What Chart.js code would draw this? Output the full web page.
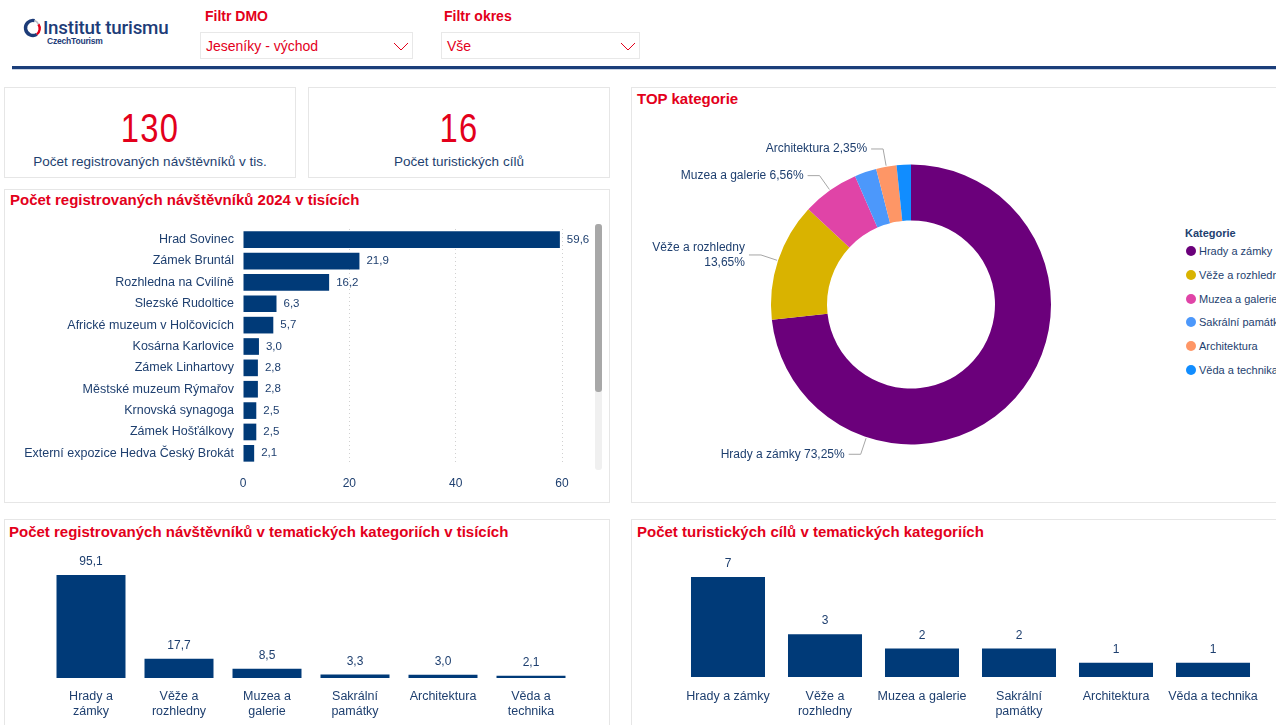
<!DOCTYPE html>
<html lang="cs">
<head>
<meta charset="utf-8">
<title>Institut turismu – Jeseníky - východ</title>
<script src="https://cdn.jsdelivr.net/npm/chart.js@4.4.1/dist/chart.umd.min.js"></script>
<style>
html,body{margin:0;padding:0;background:#fff;}
body{width:1276px;height:725px;overflow:hidden;position:relative;font-family:"Liberation Sans",Arial,sans-serif;color:#1e3f6f;}
.card{position:absolute;border:1px solid #e6e6e6;box-sizing:border-box;background:#fff;}
.title{position:absolute;font-weight:bold;font-size:15px;line-height:16px;color:#e3001b;white-space:nowrap;}
.flabel{position:absolute;font-weight:bold;font-size:14px;line-height:16px;color:#e3001b;white-space:nowrap;}
.dd{position:absolute;border:1px solid #e8e8e8;box-sizing:border-box;height:27px;top:32px;}
.dd span{position:absolute;left:5px;top:5px;font-size:14px;line-height:16px;color:#e3001b;white-space:nowrap;}
.dd svg{position:absolute;top:9px;}
.kpi-num{position:absolute;left:0;right:0;text-align:center;font-family:"Liberation Sans",Arial,sans-serif;font-size:41px;line-height:41px;color:#e3001b;letter-spacing:1.5px;transform:scaleX(0.8);transform-origin:50% 50%;}
.kpi-lbl{position:absolute;left:0;right:0;text-align:center;font-size:13.5px;line-height:15px;color:#1e3f6f;white-space:nowrap;}
canvas{position:absolute;}
#legend{position:absolute;left:1185px;top:226px;white-space:nowrap;font-size:11px;color:#1e3f6f;}
#legend .lt{font-weight:bold;line-height:14px;height:14px;}
#legend .li{position:relative;height:23.8px;line-height:14px;padding-left:14px;}
#legend .li i{position:absolute;left:1px;top:2px;width:10px;height:10px;border-radius:50%;}
</style>
</head>
<body>

<!-- header -->
<svg style="position:absolute;left:21px;top:17px" width="22" height="22" viewBox="0 0 22 22">
  <path d="M13.6 3.6 A7.5 7.5 0 1 0 15.8 17.4" fill="none" stroke="#1d3c78" stroke-width="3.4"/>
  <path d="M15.8 17.4 A7.5 7.5 0 0 0 17.4 7.2" fill="none" stroke="#e3001b" stroke-width="2.4"/>
  <path d="M17.4 7.2 A7.5 7.5 0 0 0 13.6 3.6" fill="none" stroke="#b8bcc6" stroke-width="1.6"/>
</svg>
<div style="position:absolute;left:43px;top:17px;font-family:Roboto,'Liberation Sans',sans-serif;font-weight:500;font-size:18.8px;line-height:22px;color:#1d3c78;letter-spacing:-0.2px;white-space:nowrap">Institut turismu</div>
<div style="position:absolute;left:47px;top:36px;font-weight:bold;font-size:8.5px;line-height:10px;color:#1d3c78;letter-spacing:-0.2px;white-space:nowrap">CzechTourism</div>

<div class="flabel" style="left:205px;top:8px">Filtr DMO</div>
<div class="dd" style="left:200px;width:213px"><span>Jeseníky - východ</span>
  <svg style="left:192px" width="16" height="9" viewBox="0 0 16 9"><path d="M1 1 L8 8 L15 1" fill="none" stroke="#e3001b" stroke-width="1"/></svg></div>
<div class="flabel" style="left:444px;top:8px">Filtr okres</div>
<div class="dd" style="left:441px;width:199px"><span>Vše</span>
  <svg style="left:178px" width="16" height="9" viewBox="0 0 16 9"><path d="M1 1 L8 8 L15 1" fill="none" stroke="#e3001b" stroke-width="1"/></svg></div>
<div style="position:absolute;left:12px;top:66px;width:1264px;height:3px;background:#1b3e7a"></div>
<div style="position:absolute;left:12px;top:69px;width:1264px;height:1px;background:#c9d3e3"></div>

<!-- KPI cards -->
<div class="card" style="left:4px;top:87px;width:292px;height:91px">
  <div class="kpi-num" id="kpi1" style="top:20px"></div>
  <div class="kpi-lbl" style="top:66px">Počet registrovaných návštěvníků v tis.</div>
</div>
<div class="card" style="left:308px;top:87px;width:302px;height:91px">
  <div class="kpi-num" id="kpi2" style="top:20px"></div>
  <div class="kpi-lbl" style="top:66px">Počet turistických cílů</div>
</div>

<!-- horizontal bar card -->
<div class="card" style="left:4px;top:189px;width:606px;height:314px"></div>
<div class="title" style="left:10px;top:192px">Počet registrovaných návštěvníků 2024 v tisících</div>
<canvas id="hbar" width="580" height="270" style="left:10px;top:229px"></canvas>
<div style="position:absolute;left:595px;top:224px;width:7px;height:246px;background:#f0f0f0;border-radius:3px"></div>
<div style="position:absolute;left:595px;top:224px;width:7px;height:168px;background:#a8a8a8;border-radius:3px"></div>

<!-- donut card -->
<div class="card" style="left:631px;top:87px;width:660px;height:416px"></div>
<div class="title" style="left:637px;top:91px">TOP kategorie</div>
<canvas id="donut" width="549" height="390" style="left:631px;top:110px"></canvas>
<div id="legend"></div>

<!-- bottom cards -->
<div class="card" style="left:4px;top:519px;width:606px;height:230px"></div>
<div class="title" style="left:9px;top:524px">Počet registrovaných návštěvníků v tematických kategoriích v tisících</div>
<canvas id="vbar1" width="605" height="180" style="left:4px;top:545px"></canvas>

<div class="card" style="left:631px;top:519px;width:660px;height:230px"></div>
<div class="title" style="left:637px;top:524px">Počet turistických cílů v tematických kategoriích</div>
<canvas id="vbar2" width="645" height="180" style="left:631px;top:545px"></canvas>

<script>
// ---------------- data ----------------
const kpiVisitors = 130;
const kpiTargets = 16;

const places = ['Hrad Sovinec','Zámek Bruntál','Rozhledna na Cvilíně','Slezské Rudoltice',
  'Africké muzeum v Holčovicích','Kosárna Karlovice','Zámek Linhartovy','Městské muzeum Rýmařov',
  'Krnovská synagoga','Zámek Hošťálkovy','Externí expozice Hedva Český Brokát'];
const placeVisitors = [59.6, 21.9, 16.2, 6.3, 5.7, 3.0, 2.8, 2.8, 2.5, 2.5, 2.1];
const visitorTicks = [0, 20, 40, 60];

const categories = ['Hrady a zámky','Věže a rozhledny','Muzea a galerie','Sakrální památky','Architektura','Věda a technika'];
const categoryShares = [73.25, 13.65, 6.56, 2.54, 2.35, 1.65];
const categoryVisitors = [95.1, 17.7, 8.5, 3.3, 3.0, 2.1];
const categoryTargets = [7, 3, 2, 2, 1, 1];
const categoryColors = ['#6b007b','#d9b300','#e044a7','#4c98fb','#fe9666','#118dff'];
const shareLabelShown = [true, true, true, false, true, false];

// ---------------- style ----------------
const TXT = '#1e3f6f';
const BAR = '#003a78';
const FONT = '"Liberation Sans", Arial, sans-serif';
Chart.defaults.font.family = FONT;
Chart.defaults.color = TXT;
Chart.defaults.animation = false;
Chart.defaults.responsive = false;
Chart.defaults.plugins.legend.display = false;
Chart.defaults.plugins.tooltip.enabled = false;

document.getElementById('kpi1').textContent = kpiVisitors;
document.getElementById('kpi2').textContent = kpiTargets;

const comma = (v, d) => v.toFixed(d).replace('.', ',');

// legend
const lg = document.getElementById('legend');
lg.innerHTML = '<div class="lt">Kategorie</div>' + categories.map((c, i) =>
  `<div class="li"><i style="background:${categoryColors[i]}"></i>${c}</div>`).join('');
lg.firstChild.style.marginBottom = '4px';

function makeValueLabels(cfg) {
  return {
    id: 'valueLabels',
    afterDatasetsDraw(chart) {
      const ctx = chart.ctx, meta = chart.getDatasetMeta(0), data = chart.data.datasets[0].data;
      ctx.save();
      ctx.font = cfg.size + 'px ' + FONT;
      ctx.fillStyle = TXT;
      ctx.textBaseline = 'middle';
      meta.data.forEach((el, i) => {
        const t = comma(data[i], cfg.decimals);
        if (cfg.horizontal) { ctx.textAlign = 'left'; ctx.fillText(t, el.x + cfg.offset, el.y); }
        else { ctx.textAlign = 'center'; ctx.fillText(t, el.x, el.y - cfg.offset); }
      });
      ctx.restore();
    }
  };
}

function makeDonutLabels(cfg) {
  return {
    id: 'donutLabels',
    afterDatasetsDraw(chart) {
      const ctx = chart.ctx, meta = chart.getDatasetMeta(0);
      const shares = chart.data.datasets[0].data, names = chart.data.labels;
      ctx.save();
      ctx.font = cfg.size + 'px ' + FONT;
      ctx.fillStyle = TXT;
      ctx.strokeStyle = '#a6a6a6';
      ctx.lineWidth = 1;
      meta.data.forEach((arc, i) => {
        if (!cfg.show[i]) return;
        const p = arc.getProps(['x','y','startAngle','endAngle','outerRadius'], true);
        const span = p.endAngle - p.startAngle;
        const a = p.startAngle + span * (span > Math.PI ? cfg.majorAnchor : 0.5);
        const c = Math.cos(a), s = Math.sin(a);
        const r1 = p.outerRadius + 1, r2 = p.outerRadius + cfg.elbow;
        const x1 = p.x + r1 * c, y1 = p.y + r1 * s;
        const x2 = p.x + r2 * c, y2 = p.y + r2 * s;
        const dir = c < 0 ? -1 : 1;
        const x3 = x2 + dir * cfg.tail;
        ctx.beginPath(); ctx.moveTo(x1, y1); ctx.lineTo(x2, y2); ctx.lineTo(x3, y2); ctx.stroke();
        const pct = comma(shares[i], 2) + '%';
        const tx = x3 + dir * cfg.gap;
        let lines = [names[i] + ' ' + pct];
        if (dir < 0 && tx - ctx.measureText(lines[0]).width < cfg.minX) lines = [names[i], pct];
        ctx.textAlign = dir < 0 ? 'right' : 'left';
        ctx.textBaseline = 'middle';
        lines.forEach((t, k) => ctx.fillText(t, tx, y2 + (k - (lines.length - 1) / 2) * cfg.lineHeight));
      });
      ctx.restore();
    }
  };
}

// text wrapping for category axis labels
const mctx = document.createElement('canvas').getContext('2d');
function wrap(text, maxW, size) {
  mctx.font = size + 'px ' + FONT;
  const words = text.split(' '); const out = []; let cur = '';
  words.forEach(w => {
    const test = cur ? cur + ' ' + w : w;
    if (cur && mctx.measureText(test).width > maxW) { out.push(cur); cur = w; } else cur = test;
  });
  if (cur) out.push(cur);
  return out;
}

// ---------------- horizontal bar ----------------
new Chart(document.getElementById('hbar'), {
  type: 'bar',
  data: { labels: places, datasets: [{ data: placeVisitors, backgroundColor: BAR, barPercentage: 0.78, categoryPercentage: 1 }] },
  options: {
    indexAxis: 'y',
    layout: { padding: { top: 0, right: 28, left: 0, bottom: 0 } },
    scales: {
      x: {
        min: 0, max: 60,
        afterBuildTicks: s => { s.ticks = visitorTicks.map(v => ({ value: v })); },
        afterFit: s => { s.height = 35; },
        grid: { drawTicks: false, color: ctx => ctx.tick && ctx.tick.value === 0 ? 'rgba(0,0,0,0)' : '#d0d0d0' },
        border: { display: false, dash: [1, 3] },
        ticks: { padding: 12, font: { size: 12 }, color: TXT }
      },
      y: {
        afterFit: s => { s.width = 233; s.paddingTop = 0; s.paddingBottom = 0; },
        grid: { display: false, drawTicks: false },
        border: { display: false },
        ticks: { padding: 9, autoSkip: false, font: { size: 12.5 }, color: TXT }
      }
    }
  },
  plugins: [makeValueLabels({ horizontal: true, offset: 7, size: 11.5, decimals: 1 })]
});

// ---------------- donut ----------------
new Chart(document.getElementById('donut'), {
  type: 'doughnut',
  data: { labels: categories, datasets: [{ data: categoryShares, backgroundColor: categoryColors, borderWidth: 0 }] },
  options: {
    cutout: '60%',
    layout: { padding: { left: 140, right: 129, top: 54.5, bottom: 55.5 } }
  },
  plugins: [makeDonutLabels({ show: shareLabelShown, majorAnchor: 0.753, elbow: 18, tail: 12, gap: 4, size: 12, lineHeight: 15, minX: 12 })]
});

// ---------------- vertical bars ----------------
function vbar(id, values, max, pad, axisH, tickPad, decimals, barPct) {
  return new Chart(document.getElementById(id), {
    type: 'bar',
    data: { labels: categories, datasets: [{ data: values, backgroundColor: BAR, barPercentage: barPct, categoryPercentage: 1 }] },
    options: {
      layout: { padding: pad },
      scales: {
        y: { display: false, min: 0, max: max },
        x: {
          afterFit: s => { s.height = axisH; },
          grid: { display: false, drawTicks: false },
          border: { display: false },
          ticks: {
            padding: tickPad, autoSkip: false, maxRotation: 0, font: { size: 12.5, lineHeight: 1.2 }, color: TXT,
            callback: function (v) { return wrap(this.getLabelForValue(v), this.width / categories.length * 0.93, 12.5); }
          }
        }
      }
    },
    plugins: [makeValueLabels({ horizontal: false, offset: 13, size: 12, decimals: decimals })]
  });
}
vbar('vbar1', categoryVisitors, 95.1, { left: 43, right: 34, top: 30, bottom: 0 }, 47, 11, 1, 0.784);
vbar('vbar2', categoryTargets, 7, { left: 48.5, right: 14.5, top: 32, bottom: 0 }, 48, 12, 0, 0.763);
</script>
</body>
</html>
